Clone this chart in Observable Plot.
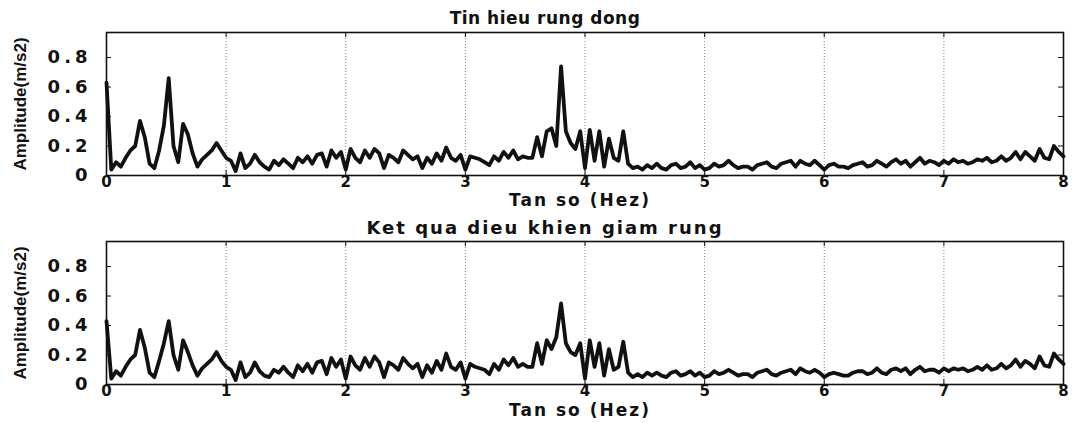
<!DOCTYPE html>
<html><head><meta charset="utf-8">
<script src="https://cdn.jsdelivr.net/npm/d3@7"></script>
<script src="https://cdn.jsdelivr.net/npm/@observablehq/plot@0.6"></script>
<style>
body{margin:0;background:#fff;}
#c{width:1073px;height:423px;overflow:hidden;background:#fff;}
#c svg{display:block;}
</style>
</head><body><div id="c"></div>
<script>
// frequency bins (Hz)
const freq = [
0.00,0.04,0.08,0.12,0.16,0.20,0.24,0.28,0.32,0.36,0.40,0.44,0.48,0.52,0.56,0.60,0.64,0.68,0.72,0.76,0.80,0.84,0.88,0.92,0.96,
1.00,1.04,1.08,1.12,1.16,1.20,1.24,1.28,1.32,1.36,1.40,1.44,1.48,1.52,1.56,1.60,1.64,1.68,1.72,1.76,1.80,1.84,1.88,1.92,1.96,
2.00,2.04,2.08,2.12,2.16,2.20,2.24,2.28,2.32,2.36,2.40,2.44,2.48,2.52,2.56,2.60,2.64,2.68,2.72,2.76,2.80,2.84,2.88,2.92,2.96,
3.00,3.04,3.08,3.12,3.16,3.20,3.24,3.28,3.32,3.36,3.40,3.44,3.48,3.52,3.56,3.60,3.64,3.68,3.72,3.76,3.80,3.84,3.88,3.92,3.96,
4.00,4.04,4.08,4.12,4.16,4.20,4.24,4.28,4.32,4.36,4.40,4.44,4.48,4.52,4.56,4.60,4.64,4.68,4.72,4.76,4.80,4.84,4.88,4.92,4.96,
5.00,5.04,5.08,5.12,5.16,5.20,5.24,5.28,5.32,5.36,5.40,5.44,5.48,5.52,5.56,5.60,5.64,5.68,5.72,5.76,5.80,5.84,5.88,5.92,5.96,
6.00,6.04,6.08,6.12,6.16,6.20,6.24,6.28,6.32,6.36,6.40,6.44,6.48,6.52,6.56,6.60,6.64,6.68,6.72,6.76,6.80,6.84,6.88,6.92,6.96,
7.00,7.04,7.08,7.12,7.16,7.20,7.24,7.28,7.32,7.36,7.40,7.44,7.48,7.52,7.56,7.60,7.64,7.68,7.72,7.76,7.80,7.84,7.88,7.92,7.96,
8.00];

// "Tin hieu rung dong" amplitude (m/s2)
const original = [
0.63,0.04,0.09,0.06,0.12,0.17,0.2,0.37,0.26,0.08,0.05,0.17,0.34,0.66,0.2,0.09,0.35,0.28,0.15,0.06,0.11,0.14,0.17,0.22,0.17,
0.12,0.1,0.03,0.15,0.05,0.08,0.14,0.09,0.06,0.04,0.1,0.07,0.11,0.08,0.05,0.12,0.09,0.13,0.08,0.14,0.15,0.06,0.17,0.12,0.16,
0.04,0.18,0.12,0.09,0.17,0.12,0.18,0.15,0.05,0.14,0.12,0.09,0.17,0.14,0.11,0.13,0.05,0.12,0.08,0.15,0.1,0.19,0.12,0.1,0.14,
0.04,0.13,0.12,0.11,0.09,0.07,0.13,0.1,0.16,0.12,0.17,0.11,0.13,0.12,0.12,0.26,0.13,0.3,0.32,0.2,0.74,0.3,0.22,0.18,0.3,
0.05,0.31,0.1,0.3,0.06,0.25,0.12,0.1,0.3,0.08,0.05,0.06,0.04,0.07,0.05,0.08,0.05,0.04,0.07,0.08,0.05,0.06,0.09,0.05,0.07,
0.04,0.05,0.08,0.06,0.07,0.1,0.07,0.05,0.06,0.06,0.04,0.07,0.08,0.09,0.06,0.05,0.08,0.09,0.1,0.06,0.1,0.08,0.07,0.1,0.07,
0.04,0.07,0.08,0.06,0.06,0.05,0.07,0.08,0.09,0.06,0.07,0.1,0.08,0.06,0.09,0.11,0.08,0.1,0.06,0.09,0.12,0.08,0.1,0.09,0.07,
0.1,0.08,0.11,0.09,0.1,0.08,0.09,0.11,0.1,0.12,0.09,0.1,0.13,0.1,0.12,0.16,0.11,0.16,0.13,0.1,0.18,0.12,0.11,0.2,0.16,
0.13];

// "Ket qua dieu khien giam rung" amplitude (m/s2)
const controlled = [
0.43,0.04,0.09,0.06,0.12,0.17,0.2,0.37,0.25,0.08,0.05,0.16,0.28,0.43,0.2,0.1,0.3,0.22,0.13,0.06,0.11,0.14,0.17,0.22,0.16,
0.12,0.1,0.03,0.15,0.05,0.08,0.15,0.09,0.06,0.05,0.1,0.08,0.12,0.08,0.05,0.13,0.09,0.14,0.08,0.15,0.16,0.07,0.18,0.12,0.17,
0.04,0.19,0.13,0.1,0.18,0.12,0.19,0.15,0.05,0.15,0.13,0.1,0.18,0.14,0.11,0.14,0.05,0.13,0.08,0.16,0.1,0.21,0.12,0.1,0.15,
0.04,0.14,0.12,0.11,0.1,0.07,0.14,0.1,0.17,0.13,0.18,0.12,0.14,0.12,0.12,0.28,0.14,0.3,0.24,0.32,0.55,0.28,0.22,0.2,0.28,
0.04,0.3,0.12,0.28,0.06,0.24,0.1,0.12,0.29,0.08,0.05,0.07,0.05,0.08,0.06,0.08,0.06,0.05,0.08,0.09,0.06,0.07,0.09,0.06,0.08,
0.05,0.06,0.09,0.07,0.08,0.1,0.08,0.06,0.07,0.07,0.05,0.08,0.09,0.1,0.07,0.06,0.08,0.09,0.1,0.07,0.11,0.09,0.08,0.1,0.08,
0.05,0.07,0.08,0.07,0.06,0.06,0.08,0.09,0.09,0.07,0.08,0.11,0.08,0.07,0.1,0.11,0.09,0.11,0.07,0.1,0.12,0.09,0.1,0.1,0.08,
0.11,0.09,0.11,0.1,0.11,0.09,0.1,0.12,0.1,0.13,0.1,0.11,0.14,0.11,0.13,0.17,0.12,0.16,0.14,0.11,0.19,0.13,0.12,0.21,0.17,
0.14];

const xTicks = [0,1,2,3,4,5,6,7,8];
const yTicks = [0,0.2,0.4,0.6,0.8];
const titles = ["Tin hieu rung dong", "Ket qua dieu khien giam rung"];
const xLabel = "Tan so (Hez)";
const yLabel = "Amplitude(m/s2)";

function spacing(svg, text, px) {
  svg.querySelectorAll("text").forEach(t => { if (t.textContent === text) t.style.letterSpacing = px + "px"; });
}

function panel(values, title, o) {
  const data = freq.map((f, i) => ({f, a: values[i]}));
  const W = 1073, mL = 106, mR = 10;
  const pw = W - mL - mR, ph = o.height - o.mt - o.mb;
  const svg = Plot.plot({
    width: W, height: o.height,
    marginLeft: mL, marginRight: mR, marginTop: o.mt, marginBottom: o.mb,
    style: {fontFamily: "'DejaVu Sans', sans-serif", fontWeight: "bold", fontSize: "16px", background: "white", color: "#111"},
    x: {domain: [0, 8]},
    y: {domain: [0, 0.97]},
    marks: [
      Plot.gridX(xTicks.slice(1, -1), {stroke: "#777", strokeOpacity: 0.9, strokeDasharray: "1,2"}),
      Plot.tickY(yTicks.slice(1), {y: d => d, stroke: "#111", insetRight: pw - 5}),
      Plot.tickY(yTicks.slice(1), {y: d => d, stroke: "#111", insetLeft: pw - 5}),
      Plot.tickX(xTicks, {x: d => d, stroke: "#111", insetTop: ph - 5}),
      Plot.tickX(xTicks, {x: d => d, stroke: "#111", insetBottom: ph - 5}),
      Plot.line(data, {x: "f", y: "a", stroke: "#111", strokeWidth: 3.8, strokeLinejoin: "round"}),
      Plot.frame({stroke: "#111", strokeWidth: 1.6}),
      Plot.axisX(xTicks, {tickSize: 0, tickPadding: 1, label: null, fontSize: 15, fontWeight: "bold", tickFormat: d => String(d)}),
      Plot.axisY(yTicks, {tickSize: 0, tickPadding: 15, label: null, fontSize: 18, fontWeight: "bold", tickFormat: d => d === 0 ? "0" : d.toFixed(1)}),
      Plot.text([title], {text: d => d, frameAnchor: "top", dx: -40, dy: o.titleDy, fontSize: o.titleFs, fontWeight: "bold"}),
      Plot.text([xLabel], {text: d => d, frameAnchor: "bottom", dx: -5, dy: o.xlDy, fontSize: 17, fontWeight: "bold"}),
      Plot.text([yLabel], {text: d => d, frameAnchor: "left", textAnchor: "middle", rotate: -90, dx: -86, fontSize: 17, fontWeight: "bold", fontFamily: "'Liberation Sans Narrow', 'Liberation Sans', sans-serif"})
    ]
  });
  svg.querySelectorAll('[aria-label="y-axis tick label"] text').forEach(t => { t.style.letterSpacing = "4px"; });
  spacing(svg, title, o.titleLs);
  spacing(svg, xLabel, 2);
  return svg;
}

const c = document.getElementById("c");
c.appendChild(panel(original, titles[0], {height: 214, mt: 32, mb: 39, titleDy: -21, xlDy: 30, titleFs: 17, titleLs: 0.5}));
c.appendChild(panel(controlled, titles[1], {height: 209, mt: 27, mb: 39, titleDy: -20, xlDy: 31, titleFs: 18, titleLs: 2}));
</script>
</body></html>
